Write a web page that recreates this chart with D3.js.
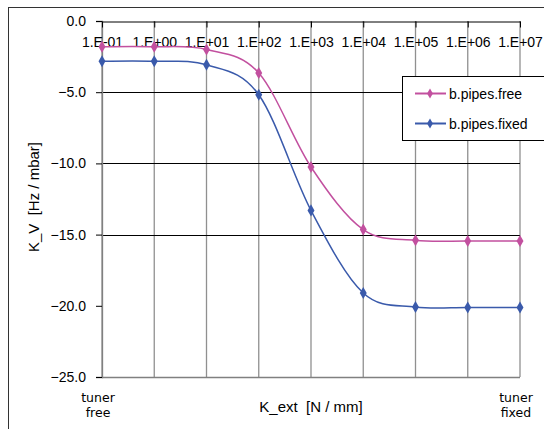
<!DOCTYPE html>
<html>
<head>
<meta charset="utf-8">
<script src="https://cdn.jsdelivr.net/npm/d3@7"></script>
<style>
  body { margin: 0; background: #fff; }
  svg { display: block; }
</style>
</head>
<body>
<svg id="plot" width="544" height="429"></svg>
<script>
let kExt = [0.1, 1, 10, 100, 1000, 10000, 100000, 1000000, 10000000];
let xTickLabels = ["1.E-01", "1.E+00", "1.E+01", "1.E+02", "1.E+03", "1.E+04", "1.E+05", "1.E+06", "1.E+07"];
let yTicks = [0, -5, -10, -15, -20, -25];

let pipesFree = [-1.8, -1.8, -2.0, -3.65, -10.25, -14.65, -15.4, -15.45, -15.45];
let pipesFixed = [-2.83, -2.83, -3.07, -5.18, -13.3, -19.1, -20.08, -20.12, -20.12];

let seriesNames = ["b.pipes.free", "b.pipes.fixed"];

let colour = d3.scaleOrdinal()
    .domain(seriesNames)
    .range(["#c2509f", "#3a5aab"]);

let svg = d3.select("#plot");

let x = d3.scaleLog()
    .domain([0.1, 1e7])
    .range([102, 520]);

let y = d3.scaleLinear()
    .domain([-25, 0])
    .range([377, 21]);

// outer chart border (runs off the right and bottom of the picture)
svg.append("rect")
    .attr("x", 8.5)
    .attr("y", 7.5)
    .attr("width", 560)
    .attr("height", 440)
    .attr("fill", "none")
    .attr("stroke", "#333");

// vertical grid
svg.append("g")
  .selectAll("line")
  .data(kExt)
  .join("line")
    .attr("x1", d => x(d))
    .attr("x2", d => x(d))
    .attr("y1", y(0))
    .attr("y2", y(-25))
    .attr("stroke", "#909090")
    .attr("stroke-width", 1.3);

// horizontal grid
svg.append("g")
  .selectAll("line")
  .data([-5, -10, -15])
  .join("line")
    .attr("x1", x(0.1))
    .attr("x2", x(1e7))
    .attr("y1", d => Math.round(y(d)) + 0.5)
    .attr("y2", d => Math.round(y(d)) + 0.5)
    .attr("stroke", "#000");

// bottom edge of plot
svg.append("line")
    .attr("x1", x(0.1))
    .attr("x2", x(1e7))
    .attr("y1", Math.round(y(-25)) + 0.5)
    .attr("y2", Math.round(y(-25)) + 0.5)
    .attr("stroke", "#808080")
    .attr("stroke-width", 1.3);

// y axis on the left
svg.append("g")
    .attr("transform", `translate(${x(0.1)}, 0)`)
    .call(d3.axisLeft(y)
            .tickValues(yTicks)
            .tickFormat(d3.format(".1f"))
            .tickSize(6)
            .tickPadding(10))
    .call(g => g.select(".domain").attr("stroke", "#808080").attr("stroke-width", 1.3))
    .call(g => g.selectAll(".tick line").attr("stroke", "#000"))
    .call(g => g.selectAll(".tick text")
            .attr("font-family", "Liberation Sans, Arial, sans-serif")
            .attr("font-size", 14)
            .attr("fill", "#000"));

// x axis along y = 0, ticks pointing down, labels just below
svg.append("g")
    .attr("transform", `translate(0, ${Math.round(y(0)) + 0.5})`)
    .call(d3.axisBottom(x)
            .tickValues(kExt)
            .tickFormat((d, i) => xTickLabels[i])
            .tickSize(6)
            .tickSizeOuter(0)
            .tickPadding(10))
    .call(g => g.select(".domain").attr("stroke", "#000"))
    .call(g => g.selectAll(".tick line").attr("stroke", "#000"))
    .call(g => g.selectAll(".tick text")
            .attr("font-family", "Liberation Sans, Arial, sans-serif")
            .attr("font-size", 14)
            .attr("fill", "#000"));

let line = d3.line()
    .x((d, i) => x(kExt[i]))
    .y(d => y(d))
    .curve(d3.curveCardinal.tension(0));

let series = [pipesFree, pipesFixed];

series.forEach((vals, s) => {
  svg.append("path")
      .datum(vals)
      .attr("fill", "none")
      .attr("stroke", colour(seriesNames[s]))
      .attr("stroke-width", 1.5)
      .attr("d", line);

  svg.append("g")
    .selectAll("path")
    .data(vals)
    .join("path")
      .attr("transform", (d, i) => `translate(${x(kExt[i])}, ${y(d)})`)
      .attr("d", d3.symbol(d3.symbolDiamond, 42))
      .attr("fill", colour(seriesNames[s]));
});

// legend box
let legend = svg.append("g")
    .attr("transform", "translate(402, 76)");

legend.append("rect")
    .attr("x", 0.5)
    .attr("y", 0.5)
    .attr("width", 200)
    .attr("height", 64)
    .attr("fill", "#fff")
    .attr("stroke", "#000");

seriesNames.forEach((name, i) => {
  let ly = 17.5 + i * 30;
  legend.append("line")
      .attr("x1", 13)
      .attr("x2", 44)
      .attr("y1", ly)
      .attr("y2", ly)
      .attr("stroke", colour(name))
      .attr("stroke-width", 2);
  legend.append("path")
      .attr("transform", `translate(28, ${ly})`)
      .attr("d", d3.symbol(d3.symbolDiamond, 30))
      .attr("fill", colour(name));
  legend.append("text")
      .attr("x", 47)
      .attr("y", ly + 5)
      .attr("font-family", "Liberation Sans, Arial, sans-serif")
      .attr("font-size", 14)
      .text(name);
});

// axis titles
svg.append("text")
    .attr("transform", "translate(39, 197) rotate(-90)")
    .attr("text-anchor", "middle")
    .attr("font-family", "Liberation Sans, Arial, sans-serif")
    .attr("font-size", 15)
    .attr("xml:space", "preserve")
    .text("K_V  [Hz / mbar]");

svg.append("text")
    .attr("x", 311)
    .attr("y", 412)
    .attr("text-anchor", "middle")
    .attr("font-family", "Liberation Sans, Arial, sans-serif")
    .attr("font-size", 15)
    .attr("xml:space", "preserve")
    .text("K_ext  [N / mm]");

let endNotes = [
  { at: 0.1, lines: ["tuner", "free"] },
  { at: 1e7, lines: ["tuner", "fixed"] }
];

endNotes.forEach(n => {
  let t = svg.append("text")
      .attr("text-anchor", "middle")
      .attr("font-family", "DejaVu Sans, sans-serif")
      .attr("font-size", 12.5);
  n.lines.forEach((s, i) => {
    t.append("tspan")
        .attr("x", x(n.at) - 4)
        .attr("y", 402 + i * 15)
        .text(s);
  });
});
</script>
</body>
</html>
